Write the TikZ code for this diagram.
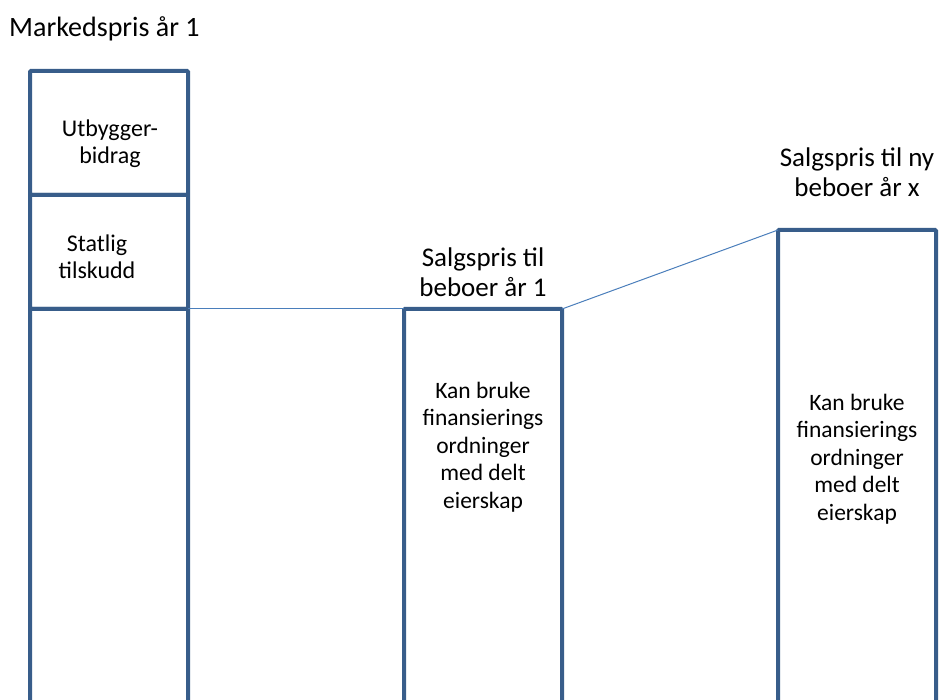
\documentclass[tikz,border=0pt]{standalone}
\usepackage{fontspec}
\setmainfont{Carlito}
\definecolor{boxblue}{HTML}{385D8A}
\definecolor{lineblue}{HTML}{4A7EBB}
\begin{document}
\begin{tikzpicture}[x=1pt,y=-1pt,
  barbox/.style={draw=boxblue,line width=4pt,rounded corners=1pt,anchor=north west,minimum width=158pt,inner sep=0pt,outer sep=0pt},
  link/.style={draw=lineblue,line width=1pt},
  head/.style={font=\fontsize{27}{29.5}\selectfont,align=center,inner sep=0pt},
  boxtext/.style={font=\fontsize{23.5}{27.5}\selectfont,align=center,inner sep=0pt},
  lefttext/.style={font=\fontsize{24}{27}\selectfont,align=center,inner sep=0pt}]
\useasboundingbox (0,0) rectangle (945,700);
\clip (0,0) rectangle (945,700);
% left column
\node[barbox,minimum height=124pt] (ub) at (30,71) {};
\node[barbox,minimum height=114pt] (st) at (30,195) {};
\node[barbox,minimum height=420pt] (lb) at (30,309) {};
% middle and right columns
\node[barbox,minimum height=420pt] (mb) at (404,309) {};
\node[barbox,minimum height=500pt] (rb) at (778,230) {};
% connectors
\draw[link] (lb.north east) -- (mb.north west);
\draw[link] (mb.north east) -- (rb.north west);
% texts
\node[head,font=\fontsize{28}{31}\selectfont,anchor=west] (t1) at (9,29) {Markedspris år 1};
\node[lefttext] (t2) at (110,144) {Utbygger-\\bidrag};
\node[lefttext] (t3) at (97,257) {Statlig\\tilskudd};
\node[head] (t4) at (483,272) {Salgspris til\\beboer år 1};
\node[head] (t5) at (857,172) {Salgspris til ny\\beboer år x};
\node[boxtext] (t6) at (483,447) {Kan bruke\\finansierings\\ordninger\\med delt\\eierskap};
\node[boxtext] (t7) at (857,459) {Kan bruke\\finansierings\\ordninger\\med delt\\eierskap};
\end{tikzpicture}
\end{document}
